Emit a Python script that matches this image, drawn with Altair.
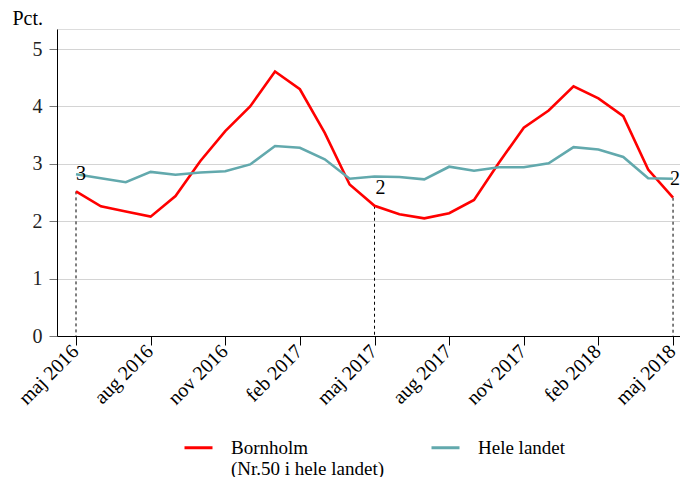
import altair as alt
import pandas as pd

months = ["maj 2016", "jun 2016", "jul 2016", "aug 2016", "sep 2016", "okt 2016",
          "nov 2016", "dec 2016", "jan 2017", "feb 2017", "mar 2017", "apr 2017",
          "maj 2017", "jun 2017", "jul 2017", "aug 2017", "sep 2017", "okt 2017",
          "nov 2017", "dec 2017", "jan 2018", "feb 2018", "mar 2018", "apr 2018",
          "maj 2018"]
bornholm = [2.52, 2.26, 2.17, 2.08, 2.44, 3.05, 3.57, 4.00, 4.61, 4.30, 3.54, 2.64,
            2.27, 2.12, 2.05, 2.14, 2.37, 3.02, 3.63, 3.93, 4.35, 4.14, 3.83, 2.90,
            2.41]
hele_landet = [2.82, 2.75, 2.68, 2.86, 2.81, 2.85, 2.87, 2.99, 3.31, 3.28, 3.08, 2.74,
               2.78, 2.77, 2.73, 2.95, 2.88, 2.94, 2.94, 3.01, 3.29, 3.25, 3.12, 2.75,
               2.74]
series_names = ["Bornholm", "Hele landet"]
series_colors = ["#ff0000", "#62a9ad"]
tick_labels = ["maj 2016", "aug 2016", "nov 2016", "feb 2017", "maj 2017",
               "aug 2017", "nov 2017", "feb 2018", "maj 2018"]
ann_months = ["maj 2016", "maj 2017", "maj 2018"]
ann_text = ["3", "2", "2"]

FONT = "Liberation Serif"

rows = []
for i, m in enumerate(months):
    rows.append({"idx": i, "month": m, "series": "Bornholm", "value": bornholm[i]})
    rows.append({"idx": i, "month": m, "series": "Hele landet", "value": hele_landet[i]})
df = pd.DataFrame(rows)

ann = pd.DataFrame({
    "idx": [months.index(m) for m in ann_months],
    "label": ann_text,
    "teal": [hele_landet[months.index(m)] for m in ann_months],
    "born": [bornholm[months.index(m)] for m in ann_months],
})

tick_vals = [months.index(t) for t in tick_labels]
label_expr = "[" + ",".join("'%s'" % t for t in tick_labels) + "][round(datum.value/3)]"

x = alt.X("idx:Q",
          scale=alt.Scale(domain=[-0.764, 24.28], nice=False, zero=False),
          axis=alt.Axis(values=tick_vals, labelExpr=label_expr, title=None,
                        grid=False, labelAngle=-45, labelAlign="right",
                        labelBaseline="middle", labelFont=FONT, labelFontSize=20,
                        labelColor="black", tickColor="black", tickSize=9,
                        domainColor="black", labelPadding=3, labelOffset=-1,
                        labelOverlap=False))

y_axis = alt.Axis(values=[0, 1, 2, 3, 4, 5], format="d", title="Pct.", titleAngle=0,
                  titleAlign="left", titleBaseline="alphabetic",
                  titleX=-45, titleY=-5, titleFont=FONT, titleFontSize=20,
                  titleFontWeight="normal", titleColor="black",
                  labelFont=FONT, labelFontSize=20, labelColor="#222",
                  tickColor="#777", tickSize=8, labelPadding=7,
                  domainColor="black", gridColor="#d4d4d4")
y_scale = alt.Scale(domain=[0, 5.35], nice=False)

rules = alt.Chart(ann).mark_rule(color="black", strokeDash=[3, 3], strokeWidth=1).encode(
    x=x, y=alt.Y("born:Q", scale=y_scale, axis=y_axis), y2=alt.Y2(datum=0))

lines = alt.Chart(df).mark_line(strokeWidth=2.6).encode(
    x=x,
    y=alt.Y("value:Q", scale=y_scale, axis=y_axis),
    color=alt.Color("series:N",
                    scale=alt.Scale(domain=series_names, range=series_colors),
                    legend=alt.Legend(
                        title=None, orient="none", direction="horizontal",
                        legendX=126, legendY=403,
                        symbolType="stroke", symbolSize=784, symbolStrokeWidth=3,
                        labelFont=FONT, labelFontSize=19, labelColor="black",
                        labelBaseline="middle", labelOffset=17, columnPadding=40,
                        labelLimit=400,
                        labelExpr="datum.label == 'Bornholm' ? ['Bornholm', ' (Nr.50 i hele landet)'] : [datum.label, ' ']")),
    detail="series:N")

txt_mid = alt.Chart(ann).transform_filter("datum.idx == 0").mark_text(
    align="left", baseline="middle", font=FONT, fontSize=20, color="black", dx=0).encode(
    x=x, y=alt.Y("teal:Q", scale=y_scale), text="label:N")
txt_top = alt.Chart(ann).transform_filter("datum.idx == 12").mark_text(
    align="left", baseline="top", font=FONT, fontSize=20, color="black", dx=1, dy=2).encode(
    x=x, y=alt.Y("teal:Q", scale=y_scale), text="label:N")
txt_end = alt.Chart(ann).transform_filter("datum.idx == 24").mark_text(
    align="right", baseline="middle", font=FONT, fontSize=20, color="black", dx=7).encode(
    x=x, y=alt.Y("teal:Q", scale=y_scale), text="label:N")

chart = alt.layer(rules, lines, txt_mid, txt_top, txt_end).properties(
    width=623, height=307,
    autosize=alt.AutoSizeParams(type="none"),
    padding={"left": 49, "top": 21, "right": 0, "bottom": 141},
).configure_view(stroke=None).configure(background="white")

chart.save("out.html", embed_options={"renderer": "svg", "actions": False})
